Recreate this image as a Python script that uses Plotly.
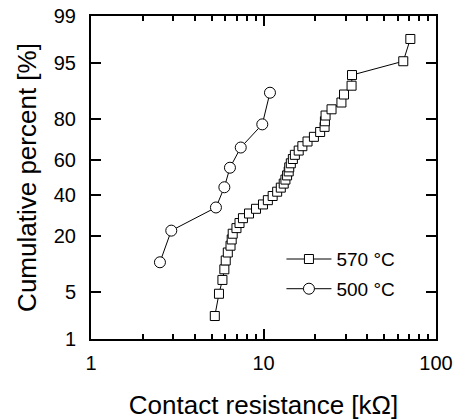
import plotly.graph_objects as go
from statistics import NormalDist

# 570 °C series: contact resistance [kOhm] and cumulative percent [%]
r570 = [5.22, 5.52, 5.78, 5.93, 6.04, 6.21, 6.44, 6.54, 6.63, 6.97, 7.26, 7.60,
        8.24, 9.05, 9.93, 10.6, 11.3, 12.0, 12.6, 13.1, 13.4, 13.7, 14.0, 14.1,
        14.4, 14.8, 15.2, 16.0, 16.8, 18.0, 19.6, 21.3, 22.6, 22.7, 22.9, 24.8,
        28.3, 29.3, 32.4, 32.6, 64.6, 71.0]
p570 = [2.3, 4.7, 7.0, 9.3, 11.6, 14.0, 16.3, 18.6, 20.9, 23.3, 25.6, 27.9,
        30.2, 32.6, 34.9, 37.2, 39.5, 41.9, 44.2, 46.5, 48.8, 51.2, 53.5, 55.8,
        58.1, 60.5, 62.8, 65.1, 67.4, 69.8, 72.1, 74.4, 76.7, 79.1, 81.4, 83.7,
        86.0, 88.4, 90.7, 93.0, 95.3, 97.7]

# 500 °C series
r500 = [2.51, 2.92, 5.30, 5.93, 6.39, 7.38, 9.84, 10.9]
p500 = [11.1, 22.2, 33.3, 44.4, 55.6, 66.7, 77.8, 88.9]

y_ticks = [1, 5, 20, 40, 60, 80, 95, 99]
x_ticks = [1, 10, 100]
x_minor = [2, 3, 4, 5, 6, 7, 8, 9, 20, 30, 40, 50, 60, 70, 80, 90]

nd = NormalDist()
def z(p):
    return nd.inv_cdf(p / 100.0)

FONT = "Liberation Sans, Arial, sans-serif"

fig = go.Figure()
fig.add_trace(go.Scatter(
    x=r570, y=[z(p) for p in p570], mode="lines+markers", name="570 °C",
    legendgroup="a",
    line=dict(color="black", width=1),
    marker=dict(symbol="square", size=9, color="white", line=dict(width=1, color="black")),
))
fig.add_trace(go.Scatter(
    x=r500, y=[z(p) for p in p500], mode="lines+markers", name="500 °C",
    legendgroup="b",
    line=dict(color="black", width=1),
    marker=dict(symbol="circle", size=11, color="white", line=dict(width=1, color="black")),
))

fig.update_layout(
    width=459, height=420,
    margin=dict(l=91, r=23, t=16, b=81),
    paper_bgcolor="white", plot_bgcolor="white",
    font=dict(family=FONT, size=19, color="black"),
    showlegend=True,
    legend=dict(x=0.552, y=0.306, xanchor="left", yanchor="top",
                bgcolor="rgba(0,0,0,0)", font=dict(size=19),
                traceorder="grouped", tracegroupgap=2, itemwidth=45),
)
fig.update_xaxes(
    type="log", range=[0, 2], automargin=False,
    tickmode="array", tickvals=x_ticks, ticktext=[str(v) for v in x_ticks],
    ticks="inside", ticklen=10, tickwidth=1.5, tickcolor="black",
    minor=dict(tickmode="array", tickvals=x_minor, ticks="inside", ticklen=5,
               tickwidth=1.5, tickcolor="black", showgrid=False),
    showline=True, linewidth=2, linecolor="black", mirror="ticks",
    showgrid=False, zeroline=False,
    tickfont=dict(size=20), ticklabelstandoff=5,
    title=dict(text="Contact resistance [kΩ]", font=dict(size=26), standoff=25),
)
fig.update_yaxes(
    range=[z(1), z(99)], automargin=False,
    tickmode="array", tickvals=[z(v) for v in y_ticks], ticktext=[str(v) for v in y_ticks],
    ticks="inside", ticklen=10, tickwidth=1.5, tickcolor="black",
    showline=True, linewidth=2, linecolor="black", mirror="ticks",
    showgrid=False, zeroline=False,
    tickfont=dict(size=20), ticklabelstandoff=9,
    title=dict(text="Cumulative percent [%]", font=dict(size=26), standoff=10),
)

# remove the page's default body margin so the 459x420 figure fills the window
fig.write_html("out.html", config={"displayModeBar": False},
               post_script="document.body.style.margin='0px';")
